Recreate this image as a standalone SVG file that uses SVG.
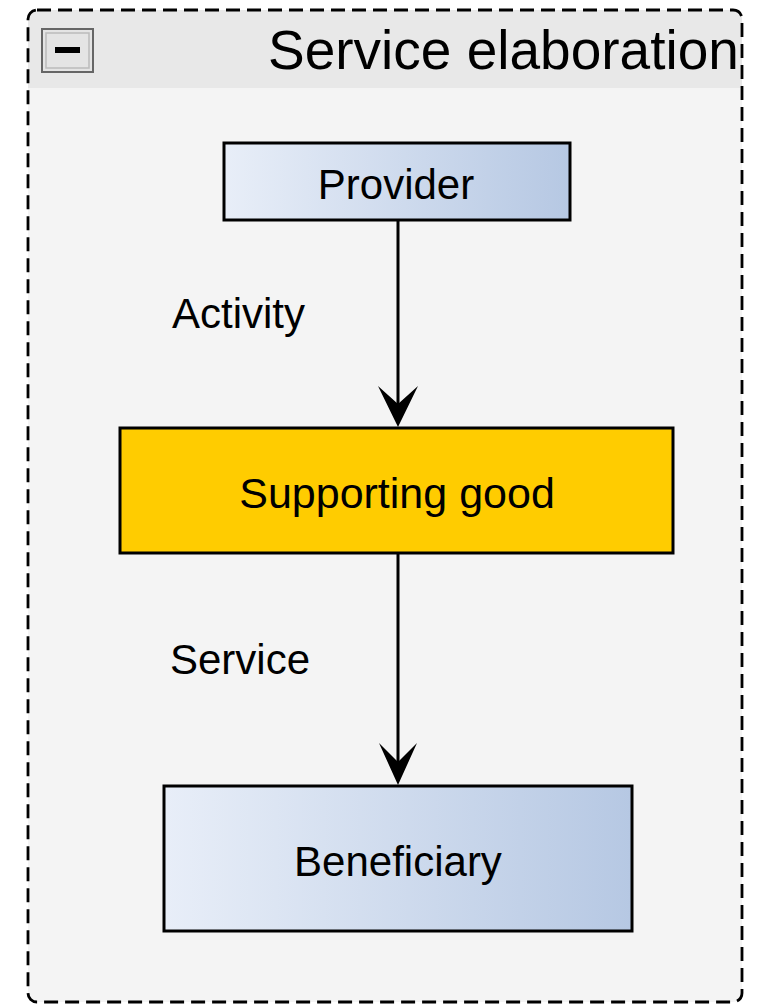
<svg xmlns="http://www.w3.org/2000/svg" width="769" height="1006" viewBox="0 0 769 1006">
<style>
text{font-family:"Liberation Sans",Arial,sans-serif;fill:#000}
.lbl{font-size:42px}
.box{stroke:#000;stroke-width:3}
.edge{stroke:#000;stroke-width:3;fill:none}
</style>
<defs>
<linearGradient id="blue" x1="0" y1="0" x2="1" y2="0">
<stop offset="0" stop-color="#e8eef8"/>
<stop offset="1" stop-color="#b6c8e3"/>
</linearGradient>
<clipPath id="cclip"><rect x="28" y="10" width="714" height="992" rx="9"/></clipPath>
</defs>
<rect width="769" height="1006" fill="#ffffff"/>
<g id="container">
<g clip-path="url(#cclip)">
<rect x="28" y="10" width="714" height="992" fill="#f4f4f4"/>
<rect x="28" y="10" width="714" height="78" fill="#e8e8e8"/>
<text x="268" y="69" style="font-size:55px">Service elaboration</text>
</g>
<rect x="28" y="10" width="714" height="992" rx="9" fill="none" stroke="#000" stroke-width="2.8" stroke-dasharray="14 7"/>
<rect x="42" y="29" width="51" height="43" fill="#e4e4e4" stroke="#666" stroke-width="2"/>
<rect x="46" y="33" width="43" height="35" fill="none" stroke="#bbb" stroke-width="1.5"/>
<rect x="55" y="47" width="25" height="6" fill="#000"/>
</g>
<g id="connectors">
<path class="edge" d="M398 220 V405"/>
<path d="M398 427 L378 386 L398 404 L418 386 Z" fill="#000"/>
<path class="edge" d="M398 553 V764"/>
<path d="M398 785 L379 743 L398 762 L417 743 Z" fill="#000"/>
<text class="lbl" x="172" y="328">Activity</text>
<text class="lbl" x="170" y="674">Service</text>
</g>
<g id="provider">
<rect class="box" x="224" y="143" width="346" height="77" fill="url(#blue)"/>
<text class="lbl" x="396" y="199" text-anchor="middle">Provider</text>
</g>
<g id="supporting-good">
<rect class="box" x="120" y="428" width="553" height="125" fill="#ffcc00"/>
<text class="lbl" x="397" y="508" text-anchor="middle" style="font-size:43px">Supporting good</text>
</g>
<g id="beneficiary">
<rect class="box" x="164" y="786" width="468" height="145" fill="url(#blue)"/>
<text class="lbl" x="398" y="876" text-anchor="middle">Beneficiary</text>
</g>
</svg>
